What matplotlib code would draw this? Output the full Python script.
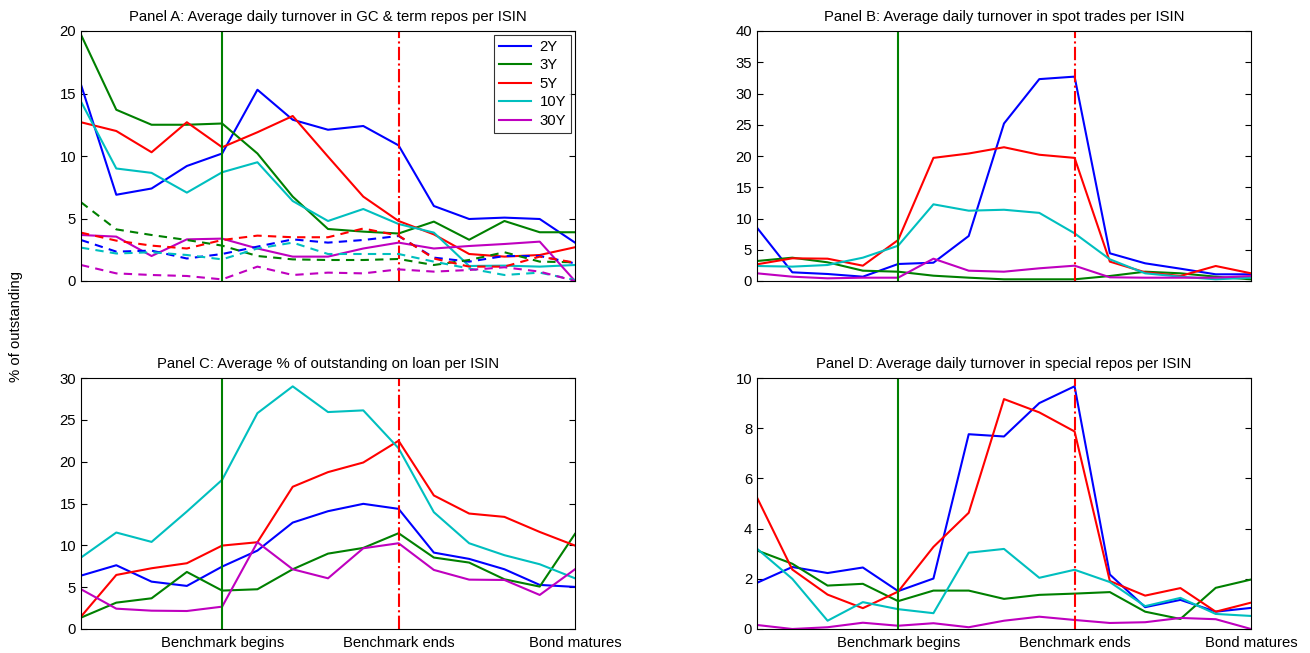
import matplotlib
matplotlib.use("Agg")
import matplotlib.pyplot as plt

plt.rcParams['font.family'] = ['Liberation Sans', 'DejaVu Sans']
plt.rcParams['font.size'] = 10.7

# event time: 15 periods, benchmark begins at 4, ends at 9, bond matures at 14
t = list(range(15))
maturities = ["2Y", "3Y", "5Y", "10Y", "30Y"]
colors = ["#0000ff", "#008000", "#ff0000", "#00bfbf", "#bf00bf"]

# Panel A - GC & term repos (solid) and second repo series (dashed)
a_2y = [15.7, 6.9, 7.4, 9.2, 10.2, 15.3, 12.9, 12.1, 12.4, 10.85, 6.0, 4.96, 5.07, 4.96, 3.07]
a_3y = [19.7, 13.7, 12.5, 12.5, 12.6, 10.2, 6.75, 4.16, 3.95, 3.8, 4.75, 3.3, 4.8, 3.9, 3.9]
a_5y = [12.7, 12.0, 10.3, 12.7, 10.7, 11.9, 13.2, 9.95, 6.75, 4.8, 3.73, 2.16, 1.95, 2.08, 2.7]
a_10y = [14.35, 9.0, 8.65, 7.07, 8.7, 9.5, 6.4, 4.8, 5.76, 4.56, 3.87, 1.2, 1.23, 1.15, 1.28]
a_30y = [3.68, 3.55, 2.0, 3.33, 3.39, 2.6, 1.95, 1.95, 2.6, 3.07, 2.6, 2.8, 2.96, 3.15, 0.0]

a2_2y = [3.28, 2.35, 2.43, 1.8, 2.16, 2.75, 3.33, 3.07, 3.28, 3.6, 1.87, 1.55, 2.0, 2.0, 1.41]
a2_3y = [6.3, 4.13, 3.68, 3.28, 2.83, 2.0, 1.73, 1.68, 1.68, 1.76, 1.28, 1.68, 2.3, 1.55, 1.5]
a2_5y = [3.87, 3.23, 2.83, 2.6, 3.28, 3.63, 3.5, 3.5, 4.2, 3.63, 1.8, 1.15, 1.15, 1.95, 1.47]
a2_10y = [2.67, 2.2, 2.3, 2.08, 1.73, 2.6, 3.07, 2.16, 2.16, 2.16, 1.55, 1.0, 0.48, 0.67, 0.08]
a2_30y = [1.28, 0.61, 0.48, 0.4, 0.13, 1.15, 0.48, 0.67, 0.61, 0.93, 0.75, 0.88, 1.1, 0.75, 0.0]

# Panel B - spot trades
b_2y = [8.53, 1.39, 1.12, 0.69, 2.72, 2.93, 7.2, 25.2, 32.3, 32.7, 4.43, 2.83, 1.97, 1.07, 1.07]
b_3y = [3.2, 3.73, 2.99, 1.65, 1.49, 0.85, 0.53, 0.27, 0.27, 0.27, 0.8, 1.49, 1.23, 0.69, 0.27]
b_5y = [2.67, 3.63, 3.57, 2.45, 6.56, 19.7, 20.4, 21.4, 20.2, 19.7, 3.1, 1.39, 0.8, 2.4, 1.23]
b_10y = [2.4, 2.3, 2.56, 3.73, 5.65, 12.27, 11.25, 11.4, 10.9, 7.63, 3.47, 1.23, 0.69, 0.27, 0.53]
b_30y = [1.23, 0.69, 0.43, 0.53, 0.53, 3.57, 1.65, 1.49, 2.03, 2.45, 0.59, 0.53, 0.53, 0.53, 0.8]

# Panel C - % of outstanding on loan
c_2y = [6.38, 7.62, 5.66, 5.15, 7.46, 9.37, 12.72, 14.08, 14.96, 14.36, 9.13, 8.38, 7.14, 5.27, 5.03]
c_3y = [1.36, 3.15, 3.67, 6.82, 4.59, 4.75, 7.14, 9.01, 9.69, 11.45, 8.54, 7.94, 5.94, 5.07, 11.37]
c_5y = [1.48, 6.46, 7.26, 7.86, 9.97, 10.37, 17.0, 18.75, 19.9, 22.5, 15.96, 13.8, 13.4, 11.6, 9.97]
c_10y = [8.54, 11.53, 10.41, 14.04, 17.83, 25.8, 29.0, 25.93, 26.13, 21.6, 13.96, 10.25, 8.82, 7.74, 6.06]
c_30y = [4.75, 2.43, 2.19, 2.15, 2.67, 10.37, 7.14, 6.06, 9.65, 10.25, 7.06, 5.9, 5.86, 4.07, 7.14]

# Panel D - special repos
d_2y = [1.84, 2.47, 2.23, 2.45, 1.51, 2.01, 7.76, 7.67, 9.0, 9.67, 2.17, 0.87, 1.16, 0.69, 0.84]
d_3y = [3.13, 2.6, 1.73, 1.8, 1.11, 1.53, 1.53, 1.2, 1.36, 1.41, 1.47, 0.69, 0.4, 1.64, 1.97]
d_5y = [5.24, 2.37, 1.37, 0.83, 1.49, 3.27, 4.63, 9.16, 8.63, 7.87, 1.91, 1.33, 1.63, 0.69, 1.05]
d_10y = [3.2, 2.0, 0.33, 1.07, 0.79, 0.63, 3.04, 3.19, 2.04, 2.36, 1.87, 0.91, 1.24, 0.6, 0.52]
d_30y = [0.16, 0.0, 0.07, 0.25, 0.13, 0.23, 0.07, 0.33, 0.49, 0.36, 0.24, 0.27, 0.44, 0.39, 0.0]

event_pos = [4, 9, 14]
event_labels = ["Benchmark begins", "Benchmark ends", "Bond matures"]

fig = plt.figure(figsize=(13.1, 6.53), dpi=100)

W, H = 1310, 653
def box(l, r, top, bot):
    return [l / W, (H - bot) / H, (r - l) / W, (bot - top) / H]

axA = fig.add_axes(box(81, 575, 31, 281))
axB = fig.add_axes(box(757, 1251, 31, 281))
axC = fig.add_axes(box(81, 575, 378, 629))
axD = fig.add_axes(box(757, 1251, 378, 629))

panels = [
    (axA, "Panel A: Average daily turnover in GC & term repos per ISIN",
     [a_2y, a_3y, a_5y, a_10y, a_30y], 20, 5),
    (axB, "Panel B: Average daily turnover in spot trades per ISIN",
     [b_2y, b_3y, b_5y, b_10y, b_30y], 40, 5),
    (axC, "Panel C: Average % of outstanding on loan per ISIN",
     [c_2y, c_3y, c_5y, c_10y, c_30y], 30, 5),
    (axD, "Panel D: Average daily turnover in special repos per ISIN",
     [d_2y, d_3y, d_5y, d_10y, d_30y], 10, 2),
]

for ax, title, series, ymax, step in panels:
    for vals, c, lab in zip(series, colors, maturities):
        ax.plot(t, vals, color=c, lw=1.5, label=lab)
    ax.axvline(4, color="#008000", lw=1.5)
    ax.axvline(9, color="#ff0000", lw=1.5, linestyle="-.")
    ax.set_xlim(0, 14)
    ax.set_ylim(0, ymax)
    ax.set_yticks(range(0, ymax + 1, step))
    ax.set_title(title, fontsize=10.7, pad=7)
    ax.tick_params(direction="in", length=4, right=True, top=False, labelsize=10.7)
    for s in ax.spines.values():
        s.set_linewidth(0.8)

# dashed series in panel A
for vals, c in zip([a2_2y, a2_3y, a2_5y, a2_10y, a2_30y], colors):
    axA.plot(t, vals, color=c, lw=1.5, linestyle=(0, (4, 3)))

leg = axA.legend(loc="upper right", fontsize=10.7, frameon=True, fancybox=False,
                 edgecolor="black", handlelength=2.1, handletextpad=0.6,
                 borderaxespad=0.25, labelspacing=0.3, borderpad=0.35)
leg.get_frame().set_linewidth(0.8)

for ax in (axA, axB):
    ax.set_xticks([])
for ax in (axC, axD):
    ax.set_xticks(event_pos)
    ax.set_xticklabels(event_labels)
    ax.tick_params(axis="x", length=0, pad=5)

fig.text(0.012, 0.5, "% of outstanding", rotation=90, va="center", ha="center", fontsize=10.7)

fig.savefig("out.png", dpi=100)
